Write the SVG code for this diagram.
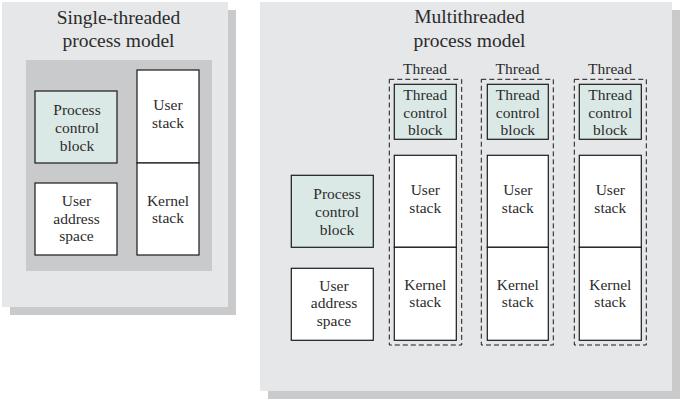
<svg xmlns="http://www.w3.org/2000/svg" width="682" height="401" viewBox="0 0 682 401">
  <style>
    .shadow { fill: #c9cacc; }
    .panel { fill: #e6e7e9; }
    .inner { fill: #c9cacc; }
    .box { fill: #ffffff; stroke: #1a1a1a; stroke-width: 1.2; }
    .blk { fill: #dbe9e6; stroke: #1a1a1a; stroke-width: 1.2; }
    .thread { fill: none; stroke: #1a1a1a; stroke-width: 1; stroke-dasharray: 5 3; }
    text { font-family: "Liberation Serif", "Times New Roman", serif; fill: #2b2b2b; text-anchor: middle; }
    .title { font-size: 19.5px; }
    .lbl { font-size: 15.5px; }
  </style>

  <!-- Single-threaded process model -->
  <g id="single-panel">
    <rect class="shadow" x="10" y="10" width="226" height="305"/>
    <rect class="panel" x="2" y="2" width="226" height="305"/>
    <text class="title" x="118.5" y="24">Single-threaded</text>
    <text class="title" x="118.5" y="47">process model</text>
    <rect class="inner" x="26" y="60" width="186" height="211"/>
  </g>
  <g id="single-pcb">
    <rect class="blk" x="35" y="91" width="82" height="72"/>
    <text class="lbl" x="77" y="115">Process</text>
    <text class="lbl" x="77" y="133">control</text>
    <text class="lbl" x="77" y="151">block</text>
  </g>
  <g id="single-uas">
    <rect class="box" x="35" y="183" width="82" height="72"/>
    <text class="lbl" x="76.5" y="206">User</text>
    <text class="lbl" x="76.5" y="223.5">address</text>
    <text class="lbl" x="76.5" y="241">space</text>
  </g>
  <g id="single-ustack">
    <rect class="box" x="137" y="70" width="62" height="93"/>
    <text class="lbl" x="168" y="110">User</text>
    <text class="lbl" x="168" y="128">stack</text>
  </g>
  <g id="single-kstack">
    <rect class="box" x="137" y="163" width="62" height="92"/>
    <text class="lbl" x="168" y="205.5">Kernel</text>
    <text class="lbl" x="168" y="223">stack</text>
  </g>

  <!-- Multithreaded process model -->
  <g id="multi-panel">
    <rect class="shadow" x="268" y="10" width="412" height="389"/>
    <rect class="panel" x="260" y="2" width="412" height="389"/>
    <text class="title" x="469.5" y="23">Multithreaded</text>
    <text class="title" x="469.5" y="47">process model</text>
  </g>
  <g id="multi-pcb">
    <rect class="blk" x="291.3" y="175.3" width="82" height="72"/>
    <text class="lbl" x="337" y="199">Process</text>
    <text class="lbl" x="337" y="217">control</text>
    <text class="lbl" x="337" y="235">block</text>
  </g>
  <g id="multi-uas">
    <rect class="box" x="291.3" y="268.3" width="82" height="72"/>
    <text class="lbl" x="334" y="290.5">User</text>
    <text class="lbl" x="334" y="308">address</text>
    <text class="lbl" x="334" y="326">space</text>
  </g>

  <g id="thread-1">
    <text class="lbl" x="425" y="73.5">Thread</text>
    <rect class="thread" x="389.3" y="79.3" width="72.4" height="265.7"/>
    <rect class="blk" x="394.3" y="84.3" width="62" height="55"/>
    <text class="lbl" x="425.3" y="99.5">Thread</text>
    <text class="lbl" x="425.3" y="117.5">control</text>
    <text class="lbl" x="425.3" y="135">block</text>
    <rect class="box" x="394.3" y="155.3" width="62" height="92"/>
    <text class="lbl" x="425.3" y="194.5">User</text>
    <text class="lbl" x="425.3" y="212.5">stack</text>
    <rect class="box" x="394.3" y="247.3" width="62" height="93"/>
    <text class="lbl" x="425.3" y="289.5">Kernel</text>
    <text class="lbl" x="425.3" y="307">stack</text>
  </g>
  <g id="thread-2">
    <text class="lbl" x="517.5" y="73.5">Thread</text>
    <rect class="thread" x="481.3" y="79.3" width="72" height="265.7"/>
    <rect class="blk" x="487.3" y="84.3" width="61" height="55"/>
    <text class="lbl" x="517.8" y="99.5">Thread</text>
    <text class="lbl" x="517.8" y="117.5">control</text>
    <text class="lbl" x="517.8" y="135">block</text>
    <rect class="box" x="487.3" y="155.3" width="61" height="92"/>
    <text class="lbl" x="517.8" y="194.5">User</text>
    <text class="lbl" x="517.8" y="212.5">stack</text>
    <rect class="box" x="487.3" y="247.3" width="61" height="93"/>
    <text class="lbl" x="517.8" y="289.5">Kernel</text>
    <text class="lbl" x="517.8" y="307">stack</text>
  </g>
  <g id="thread-3">
    <text class="lbl" x="610" y="73.5">Thread</text>
    <rect class="thread" x="574.3" y="79.3" width="72" height="265.7"/>
    <rect class="blk" x="579.3" y="84.3" width="62" height="55"/>
    <text class="lbl" x="610.3" y="99.5">Thread</text>
    <text class="lbl" x="610.3" y="117.5">control</text>
    <text class="lbl" x="610.3" y="135">block</text>
    <rect class="box" x="579.3" y="155.3" width="62" height="92"/>
    <text class="lbl" x="610.3" y="194.5">User</text>
    <text class="lbl" x="610.3" y="212.5">stack</text>
    <rect class="box" x="579.3" y="247.3" width="62" height="93"/>
    <text class="lbl" x="610.3" y="289.5">Kernel</text>
    <text class="lbl" x="610.3" y="307">stack</text>
  </g>

  <!-- no connectors are drawn between the blocks -->
  <g id="connectors"/>
</svg>
